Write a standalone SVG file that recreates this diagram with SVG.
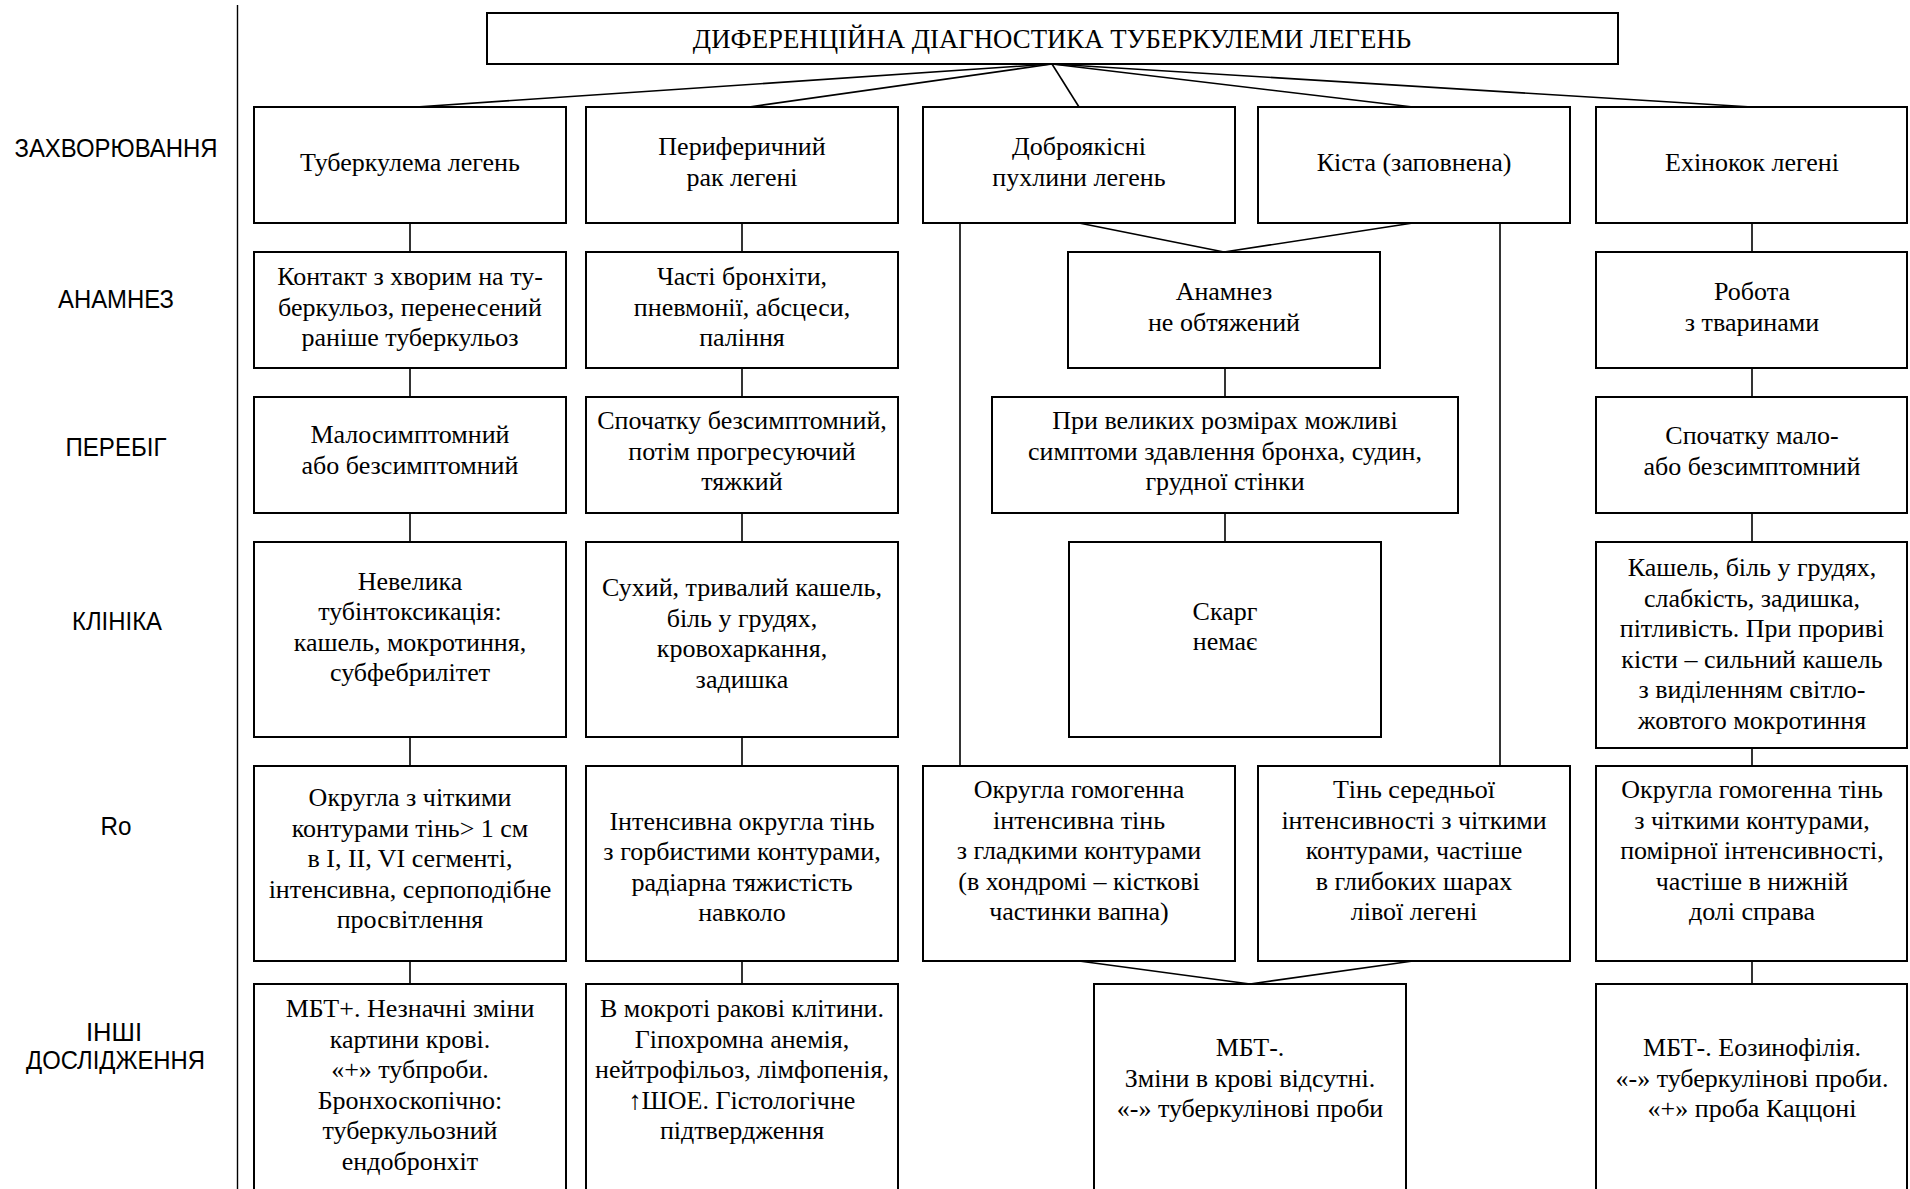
<svg xmlns="http://www.w3.org/2000/svg" width="1910" height="1189" viewBox="0 0 1910 1189">
  <style>
    .box { fill: #fff; stroke: #000; stroke-width: 2; }
    .con { stroke: #000; stroke-width: 1.6; fill: none; }
    .div { stroke: #000; stroke-width: 1.4; }
    .t { font-family: "Liberation Serif", "Times New Roman", serif; font-size: 26px; text-anchor: middle; fill: #000; }
    .head { font-size: 26.8px; }
    .lbl { font-family: "Liberation Sans", Arial, sans-serif; font-size: 26.5px; text-anchor: middle; fill: #000; }
  </style>
  <rect width="1910" height="1189" fill="#fff"/>

  <!-- row labels and separator -->
  <g id="labels">
    <line class="div" x1="237.5" y1="5" x2="237.5" y2="1189"/>
    <text class="lbl" x="116" y="157" textLength="203" lengthAdjust="spacingAndGlyphs">ЗАХВОРЮВАННЯ</text>
    <text class="lbl" x="116" y="308" textLength="116" lengthAdjust="spacingAndGlyphs">АНАМНЕЗ</text>
    <text class="lbl" x="116" y="456" textLength="101" lengthAdjust="spacingAndGlyphs">ПЕРЕБІГ</text>
    <text class="lbl" x="117" y="630" textLength="90" lengthAdjust="spacingAndGlyphs">КЛІНІКА</text>
    <text class="lbl" x="116" y="835" textLength="31" lengthAdjust="spacingAndGlyphs">Ro</text>
    <text class="lbl" x="114" y="1041" textLength="56" lengthAdjust="spacingAndGlyphs">ІНШІ</text>
    <text class="lbl" x="115.5" y="1069" textLength="179" lengthAdjust="spacingAndGlyphs">ДОСЛІДЖЕННЯ</text>
  </g>

  <!-- connectors -->
  <g id="connectors">
    <line class="con" x1="1052" y1="64" x2="416" y2="107"/>
    <line class="con" x1="1052" y1="64" x2="749" y2="107"/>
    <line class="con" x1="1052" y1="64" x2="1079" y2="107"/>
    <line class="con" x1="1052" y1="64" x2="1413" y2="107"/>
    <line class="con" x1="1052" y1="64" x2="1752" y2="107"/>

    <line class="con" x1="410" y1="223" x2="410" y2="252"/>
    <line class="con" x1="410" y1="368" x2="410" y2="397"/>
    <line class="con" x1="410" y1="513" x2="410" y2="542"/>
    <line class="con" x1="410" y1="737" x2="410" y2="766"/>
    <line class="con" x1="410" y1="961" x2="410" y2="984"/>

    <line class="con" x1="742" y1="223" x2="742" y2="252"/>
    <line class="con" x1="742" y1="368" x2="742" y2="397"/>
    <line class="con" x1="742" y1="513" x2="742" y2="542"/>
    <line class="con" x1="742" y1="737" x2="742" y2="766"/>
    <line class="con" x1="742" y1="961" x2="742" y2="984"/>

    <line class="con" x1="1079" y1="223" x2="1224" y2="252"/>
    <line class="con" x1="1413" y1="223" x2="1224" y2="252"/>
    <line class="con" x1="1225" y1="368" x2="1225" y2="397"/>
    <line class="con" x1="1225" y1="513" x2="1225" y2="542"/>
    <line class="con" x1="960" y1="223" x2="960" y2="766"/>
    <line class="con" x1="1500" y1="223" x2="1500" y2="766"/>
    <line class="con" x1="1079" y1="961" x2="1250" y2="984"/>
    <line class="con" x1="1413" y1="961" x2="1250" y2="984"/>

    <line class="con" x1="1752" y1="223" x2="1752" y2="252"/>
    <line class="con" x1="1752" y1="368" x2="1752" y2="397"/>
    <line class="con" x1="1752" y1="513" x2="1752" y2="542"/>
    <line class="con" x1="1752" y1="748" x2="1752" y2="766"/>
    <line class="con" x1="1752" y1="961" x2="1752" y2="984"/>
  </g>

  <!-- title -->
  <g id="title">
    <rect class="box" x="487" y="13" width="1131" height="51"/>
    <text class="t head" x="1052" y="48">ДИФЕРЕНЦІЙНА ДІАГНОСТИКА ТУБЕРКУЛЕМИ ЛЕГЕНЬ</text>
  </g>

  <!-- row 1: diseases -->
  <g id="d-tuberculoma">
    <rect class="box" x="254" y="107" width="312" height="116"/>
    <text class="t" x="410" y="171">Туберкулема легень</text>
  </g>
  <g id="d-cancer">
    <rect class="box" x="586" y="107" width="312" height="116"/>
    <text class="t" x="742" y="155">Периферичний</text>
    <text class="t" x="742" y="186">рак легені</text>
  </g>
  <g id="d-benign">
    <rect class="box" x="923" y="107" width="312" height="116"/>
    <text class="t" x="1079" y="155">Доброякісні</text>
    <text class="t" x="1079" y="186">пухлини легень</text>
  </g>
  <g id="d-cyst">
    <rect class="box" x="1258" y="107" width="312" height="116"/>
    <text class="t" x="1414" y="171">Кіста (заповнена)</text>
  </g>
  <g id="d-echinococcus">
    <rect class="box" x="1596" y="107" width="311" height="116"/>
    <text class="t" x="1752" y="171">Ехінокок легені</text>
  </g>

  <!-- row 2: anamnesis -->
  <g id="a-tuberculoma">
    <rect class="box" x="254" y="252" width="312" height="116"/>
    <text class="t" x="410" y="285">Контакт з хворим на ту-</text>
    <text class="t" x="410" y="315.5">беркульоз, перенесений</text>
    <text class="t" x="410" y="346">раніше туберкульоз</text>
  </g>
  <g id="a-cancer">
    <rect class="box" x="586" y="252" width="312" height="116"/>
    <text class="t" x="742" y="285">Часті бронхіти,</text>
    <text class="t" x="742" y="315.5">пневмонії, абсцеси,</text>
    <text class="t" x="742" y="346">паління</text>
  </g>
  <g id="a-benign-cyst">
    <rect class="box" x="1068" y="252" width="312" height="116"/>
    <text class="t" x="1224" y="300">Анамнез</text>
    <text class="t" x="1224" y="330.5">не обтяжений</text>
  </g>
  <g id="a-echinococcus">
    <rect class="box" x="1596" y="252" width="311" height="116"/>
    <text class="t" x="1752" y="300">Робота</text>
    <text class="t" x="1752" y="330.5">з тваринами</text>
  </g>

  <!-- row 3: course -->
  <g id="c-tuberculoma">
    <rect class="box" x="254" y="397" width="312" height="116"/>
    <text class="t" x="410" y="443">Малосимптомний</text>
    <text class="t" x="410" y="474">або безсимптомний</text>
  </g>
  <g id="c-cancer">
    <rect class="box" x="586" y="397" width="312" height="116"/>
    <text class="t" x="742" y="429">Спочатку безсимптомний,</text>
    <text class="t" x="742" y="459.5">потім прогресуючий</text>
    <text class="t" x="742" y="490">тяжкий</text>
  </g>
  <g id="c-benign-cyst">
    <rect class="box" x="992" y="397" width="466" height="116"/>
    <text class="t" x="1225" y="429">При великих розмірах можливі</text>
    <text class="t" x="1225" y="459.5">симптоми здавлення бронха, судин,</text>
    <text class="t" x="1225" y="490">грудної стінки</text>
  </g>
  <g id="c-echinococcus">
    <rect class="box" x="1596" y="397" width="311" height="116"/>
    <text class="t" x="1752" y="444">Спочатку мало-</text>
    <text class="t" x="1752" y="474.5">або безсимптомний</text>
  </g>

  <!-- row 4: clinical picture -->
  <g id="k-tuberculoma">
    <rect class="box" x="254" y="542" width="312" height="195"/>
    <text class="t" x="410" y="589.5">Невелика</text>
    <text class="t" x="410" y="620">тубінтоксикація:</text>
    <text class="t" x="410" y="650.5">кашель, мокротиння,</text>
    <text class="t" x="410" y="681">субфебрилітет</text>
  </g>
  <g id="k-cancer">
    <rect class="box" x="586" y="542" width="312" height="195"/>
    <text class="t" x="742" y="596">Сухий, тривалий кашель,</text>
    <text class="t" x="742" y="626.5">біль у грудях,</text>
    <text class="t" x="742" y="657">кровохаркання,</text>
    <text class="t" x="742" y="687.5">задишка</text>
  </g>
  <g id="k-benign-cyst">
    <rect class="box" x="1069" y="542" width="312" height="195"/>
    <text class="t" x="1225" y="619.5">Скарг</text>
    <text class="t" x="1225" y="650">немає</text>
  </g>
  <g id="k-echinococcus">
    <rect class="box" x="1596" y="542" width="311" height="206"/>
    <text class="t" x="1752" y="576">Кашель, біль у грудях,</text>
    <text class="t" x="1752" y="606.5">слабкість, задишка,</text>
    <text class="t" x="1752" y="637">пітливість. При прориві</text>
    <text class="t" x="1752" y="667.5">кісти – сильний кашель</text>
    <text class="t" x="1752" y="698">з виділенням світло-</text>
    <text class="t" x="1752" y="728.5">жовтого мокротиння</text>
  </g>

  <!-- row 5: X-ray -->
  <g id="r-tuberculoma">
    <rect class="box" x="254" y="766" width="312" height="195"/>
    <text class="t" x="410" y="806">Округла з чіткими</text>
    <text class="t" x="410" y="836.5">контурами тінь&gt; 1 см</text>
    <text class="t" x="410" y="867">в I, II, VI сегменті,</text>
    <text class="t" x="410" y="897.5">інтенсивна, серпоподібне</text>
    <text class="t" x="410" y="928">просвітлення</text>
  </g>
  <g id="r-cancer">
    <rect class="box" x="586" y="766" width="312" height="195"/>
    <text class="t" x="742" y="829.5">Інтенсивна округла тінь</text>
    <text class="t" x="742" y="860">з горбистими контурами,</text>
    <text class="t" x="742" y="890.5">радіарна тяжистість</text>
    <text class="t" x="742" y="921">навколо</text>
  </g>
  <g id="r-benign">
    <rect class="box" x="923" y="766" width="312" height="195"/>
    <text class="t" x="1079" y="798">Округла гомогенна</text>
    <text class="t" x="1079" y="828.5">інтенсивна тінь</text>
    <text class="t" x="1079" y="859">з гладкими контурами</text>
    <text class="t" x="1079" y="889.5">(в хондромі – кісткові</text>
    <text class="t" x="1079" y="920">частинки вапна)</text>
  </g>
  <g id="r-cyst">
    <rect class="box" x="1258" y="766" width="312" height="195"/>
    <text class="t" x="1414" y="798">Тінь середньої</text>
    <text class="t" x="1414" y="828.5">інтенсивності з чіткими</text>
    <text class="t" x="1414" y="859">контурами, частіше</text>
    <text class="t" x="1414" y="889.5">в глибоких шарах</text>
    <text class="t" x="1414" y="920">лівої легені</text>
  </g>
  <g id="r-echinococcus">
    <rect class="box" x="1596" y="766" width="311" height="195"/>
    <text class="t" x="1752" y="798">Округла гомогенна тінь</text>
    <text class="t" x="1752" y="828.5">з чіткими контурами,</text>
    <text class="t" x="1752" y="859">помірної інтенсивності,</text>
    <text class="t" x="1752" y="889.5">частіше в нижній</text>
    <text class="t" x="1752" y="920">долі справа</text>
  </g>

  <!-- row 6: other investigations -->
  <g id="o-tuberculoma">
    <rect class="box" x="254" y="984" width="312" height="230"/>
    <text class="t" x="410" y="1017">МБТ+. Незначні зміни</text>
    <text class="t" x="410" y="1047.5">картини крові.</text>
    <text class="t" x="410" y="1078">«+» тубпроби.</text>
    <text class="t" x="410" y="1108.5">Бронхоскопічно:</text>
    <text class="t" x="410" y="1139">туберкульозний</text>
    <text class="t" x="410" y="1169.5">ендобронхіт</text>
  </g>
  <g id="o-cancer">
    <rect class="box" x="586" y="984" width="312" height="230"/>
    <text class="t" x="742" y="1017">В мокроті ракові клітини.</text>
    <text class="t" x="742" y="1047.5">Гіпохромна анемія,</text>
    <text class="t" x="742" y="1078">нейтрофільоз, лімфопенія,</text>
    <text class="t" x="742" y="1108.5">↑ШОЕ. Гістологічне</text>
    <text class="t" x="742" y="1139">підтвердження</text>
  </g>
  <g id="o-benign-cyst">
    <rect class="box" x="1094" y="984" width="312" height="230"/>
    <text class="t" x="1250" y="1056">МБТ-.</text>
    <text class="t" x="1250" y="1086.5">Зміни в крові відсутні.</text>
    <text class="t" x="1250" y="1117">«-» туберкулінові проби</text>
  </g>
  <g id="o-echinococcus">
    <rect class="box" x="1596" y="984" width="311" height="230"/>
    <text class="t" x="1752" y="1056">МБТ-. Еозинофілія.</text>
    <text class="t" x="1752" y="1086.5">«-» туберкулінові проби.</text>
    <text class="t" x="1752" y="1117">«+» проба Каццоні</text>
  </g>
</svg>
